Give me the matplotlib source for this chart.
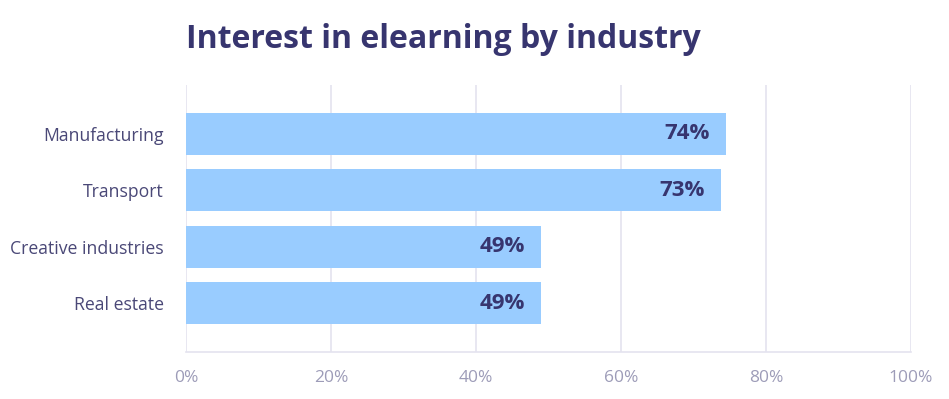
import matplotlib
matplotlib.use("Agg")
import matplotlib.pyplot as plt

categories = ["Manufacturing", "Transport", "Creative industries", "Real estate"]
values = [74.5, 73.8, 49, 49]
value_labels = ["74%", "73%", "49%", "49%"]
xticks = [0, 20, 40, 60, 80, 100]
xtick_labels = ["0%", "20%", "40%", "60%", "80%", "100%"]

title_color = "#37356f"
label_color = "#4a4877"
tick_color = "#9d9cb8"
grid_color = "#e4e3ef"
bar_color = "#99ccff"
font = "Open Sans"

fig = plt.figure(figsize=(9.49, 3.99), dpi=100)
ax = fig.add_axes([186/949, 1-352/399, (911-186)/949, (352-85)/399])

ypos = list(range(len(categories)))
ax.barh(ypos, values, height=0.74, color=bar_color, zorder=3)
for y, v, lab in zip(ypos, values, value_labels):
    ax.text(v - 2.3, y, lab, ha="right", va="center", fontsize=16,
            fontweight="bold", color=title_color, family=font, zorder=4)

ax.set_xlim(0, 100)
ax.set_ylim(3.86, -0.86)
ax.set_xticks(xticks)
ax.set_xticklabels(xtick_labels, fontsize=12.5, color=tick_color, family=font)
ax.set_yticks(ypos)
ax.set_yticklabels(categories, fontsize=12.7, color=label_color, family=font)
ax.tick_params(axis="x", length=0, pad=13)
ax.tick_params(axis="y", length=0, pad=16)
ax.grid(axis="x", color=grid_color, linewidth=1.2, zorder=0)
for s in ["top", "right", "left"]:
    ax.spines[s].set_visible(False)
ax.spines["bottom"].set_color(grid_color)
ax.spines["bottom"].set_linewidth(1.2)

fig.text(186/949, 1-39/399, "Interest in elearning by industry", fontsize=23,
         fontweight="bold", color=title_color, family=font, va="center", ha="left")

fig.savefig("out.png", dpi=100)
